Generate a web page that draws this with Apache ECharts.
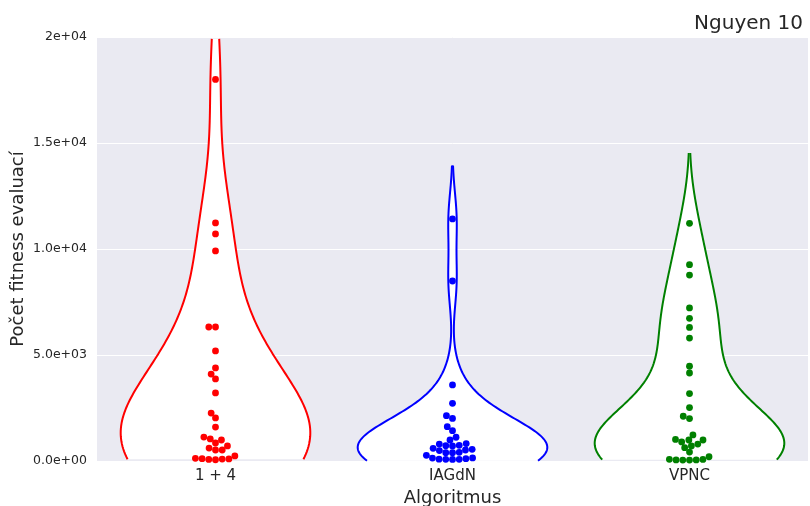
<!DOCTYPE html>
<html>
<head>
<meta charset="utf-8">
<script src="https://cdn.jsdelivr.net/npm/echarts@6/dist/echarts.min.js"></script>
<style>
  html, body { margin: 0; padding: 0; background: #fff; }
  #chart { width: 810px; height: 506px; }
</style>
</head>
<body>
<div id="chart"></div>
<script>
const categories = ['1 + 4', 'IAGdN', 'VPNC']
const colors = ['#ff0000', '#0000ff', '#008000']

// počet fitness evaluací pro jednotlivé běhy
const runs14 = [18000, 11230, 10710, 9910, 6320, 6320, 5190, 4390, 4100, 3870, 3210,
  2260, 2030, 1600, 1130, 1040, 990, 850, 710, 610, 520, 520, 240,
  60, 75, 90, 100, 110, 125]
const runsIAGdN = [11420, 8490, 3590, 2720, 2140, 2010, 1620, 1430, 1120, 990,
  820, 800, 740, 720, 710, 600, 550, 520, 490, 410, 395, 390, 270,
  145, 140, 110, 85, 80, 80, 75]
const runsVPNC = [11210, 9260, 8770, 7220, 6730, 6300, 5800, 4470, 4150, 3180, 2520,
  2110, 2000, 1230, 1020, 990, 990, 900, 800, 710, 630, 420, 200,
  80, 75, 50, 45, 45, 50]
const groups = [runs14, runsIAGdN, runsVPNC]
const bwAdjust = [1.25, 1, 1]

const yTickLabels = ['0.0e+00', '5.0e+03', '1.0e+04', '1.5e+04', '2e+04']
const yMin = 0
const yMax = 20000
const yStep = 5000

const textColor = '#262626'
const dotRadius = 3.2

function stdDev(arr) {
  const m = arr.reduce((a, b) => a + b, 0) / arr.length
  const v = arr.reduce((a, b) => a + (b - m) * (b - m), 0) / (arr.length - 1)
  return Math.sqrt(v)
}

// gaussian kde, scott bandwidth, cut = 2 (jako seaborn)
function violinCurve(arr, adj) {
  const n = arr.length
  const bw = Math.pow(n, -0.2) * stdDev(arr) * adj
  const lo = Math.min(...arr) - 2 * bw
  const hi = Math.max(...arr) + 2 * bw
  const steps = 240
  const pts = []
  for (let i = 0; i <= steps; i++) {
    const y = lo + (hi - lo) * i / steps
    let d = 0
    for (const v of arr) {
      const z = (y - v) / bw
      d += Math.exp(-0.5 * z * z)
    }
    pts.push([y, d])
  }
  const maxD = Math.max(...pts.map(p => p[1]))
  return pts.map(p => [p[0], p[1] / maxD])
}

const curves = groups.map((arr, i) => violinCurve(arr, bwAdjust[i]))

function violinSeries(ci) {
  return {
    type: 'custom',
    data: [[ci, 0]],
    encode: { x: 0, y: 1 },
    z: 1,
    silent: true,
    renderItem: (params, api) => {
      const half = api.size([1, 0])[0] * 0.4
      const cx = api.coord([ci, 0])[0]
      const inside = curves[ci].filter(p => p[0] >= yMin && p[0] <= yMax)
      const left = inside.map(p => [cx - p[1] * half, api.coord([ci, p[0]])[1]])
      const right = inside.map(p => [cx + p[1] * half, api.coord([ci, p[0]])[1]])
      const outline = { stroke: colors[ci], lineWidth: 2, fill: null }
      return {
        type: 'group',
        children: [
          { type: 'polygon', shape: { points: left.concat(right.slice().reverse()) }, style: { fill: '#fff' } },
          { type: 'polyline', shape: { points: left }, style: outline },
          { type: 'polyline', shape: { points: right }, style: outline },
        ],
      }
    },
  }
}

function swarmSeries(ci, data) {
  return {
    type: 'custom',
    data,
    encode: { x: 0, y: 1 },
    z: 3,
    renderItem: (params, api) => {
      const p = api.coord([api.value(0), api.value(1)])
      return {
        type: 'circle',
        shape: { cx: p[0] + api.value(2), cy: p[1], r: dotRadius + 0.2 },
        style: { fill: colors[ci] },
      }
    },
  }
}

// beeswarm jako v seabornu, v pixelech
function beeswarm(ys, r) {
  const swarm = []
  for (const y of ys) {
    const neighbors = []
    for (let j = swarm.length - 1; j >= 0; j--) {
      if (y - swarm[j][1] < 2 * r) neighbors.push(swarm[j])
      else break
    }
    neighbors.reverse()
    const cands = [0]
    let leftFirst = true
    for (const [xj, yj] of neighbors) {
      const dy = y - yj
      const dx = Math.sqrt(Math.max(4 * r * r - dy * dy, 0)) * 1.05
      if (leftFirst) cands.push(xj - dx, xj + dx)
      else cands.push(xj + dx, xj - dx)
      leftFirst = !leftFirst
    }
    const order = cands.map((c, i) => [c, i])
      .sort((a, b) => Math.abs(a[0]) - Math.abs(b[0]) || a[1] - b[1])
    let chosen = 0
    for (const [c] of order) {
      const ok = neighbors.every(([xj, yj]) => (c - xj) ** 2 + (y - yj) ** 2 >= 4 * r * r - 1e-6)
      if (ok) { chosen = c; break }
    }
    swarm.push([chosen, y])
  }
  return swarm.map(s => s[0])
}

const chart = echarts.init(document.getElementById('chart'), null, { renderer: 'canvas' })

const baseOption = {
  animation: false,
  backgroundColor: '#ffffff',
  title: {
    text: 'Nguyen 10',
    right: 2,
    top: 9,
    textStyle: { fontFamily: 'DejaVu Sans', fontSize: 20, fontWeight: 'normal', color: textColor },
  },
  grid: {
    left: 97, right: 2, top: 37, bottom: 45,
    outerBoundsMode: 'none',
    containLabel: false,
    show: true, backgroundColor: '#EAEAF2', borderWidth: 0,
  },
  xAxis: {
    type: 'category',
    data: categories,
    axisLine: { show: false },
    axisTick: { show: false },
    splitLine: { show: false },
    axisLabel: { fontFamily: 'DejaVu Sans', fontSize: 15, color: textColor, margin: 8 },
    name: 'Algoritmus',
    nameLocation: 'middle',
    nameGap: 27,
    nameTextStyle: { fontFamily: 'DejaVu Sans', fontSize: 18, color: textColor },
  },
  yAxis: {
    type: 'value',
    min: yMin,
    max: yMax,
    interval: yStep,
    axisLine: { show: false },
    axisTick: { show: false },
    splitLine: { lineStyle: { color: '#ffffff', width: 1 } },
    axisLabel: {
      fontFamily: 'DejaVu Sans', fontSize: 12.5, color: textColor, margin: 10,
      formatter: v => yTickLabels[Math.round((v - yMin) / yStep)],
    },
    name: 'Počet fitness evaluací',
    nameLocation: 'middle',
    nameGap: 70,
    nameMoveOverlap: false,
    nameTextStyle: { fontFamily: 'DejaVu Sans', fontSize: 18, color: textColor },
  },
  series: categories.map((c, ci) => violinSeries(ci)),
}

chart.setOption(baseOption)

// rozmístění bodů swarmu podle pixelových souřadnic
const swarms = groups.map((arr, ci) => {
  const sorted = arr.slice().sort((a, b) => a - b)
  const ys = sorted.map(v => -chart.convertToPixel({ gridIndex: 0 }, [ci, v])[1])
  const offs = beeswarm(ys, dotRadius)
  return swarmSeries(ci, sorted.map((v, i) => [ci, v, offs[i]]))
})

chart.setOption({ series: baseOption.series.concat(swarms) })
</script>
</body>
</html>
